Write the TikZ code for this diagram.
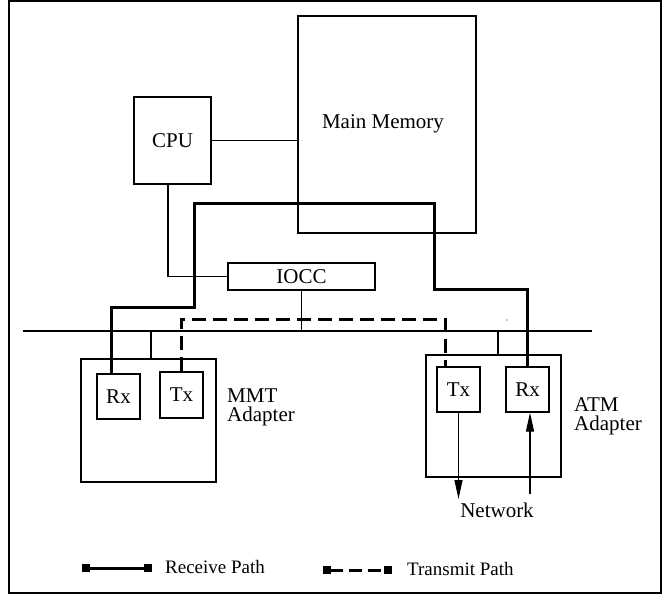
\documentclass[tikz,border=0pt]{standalone}
\usepackage{fontspec}
\setmainfont{Liberation Serif}
\usetikzlibrary{arrows.meta}
\begin{document}
\begin{tikzpicture}[x=1pt,y=-1pt,
  thin line/.style={line width=1.1pt},
  box/.style={draw,thin line,inner sep=0pt,font=\fontsize{21}{24}\selectfont},
  lbl/.style={inner sep=0pt,font=\fontsize{21}{23}\selectfont,align=left},
  recv/.style={line width=3pt},
  xmit/.style={line width=3pt,dash pattern=on 14pt off 7pt},
  netarrow/.style={thin line,-{Triangle[length=19pt,width=8pt]}},
  legtip/.style={{Square[length=8pt,width=8pt]}-{Square[length=8pt,width=8pt]}},
  legtext/.style={inner sep=0pt,anchor=west,font=\fontsize{19}{21}\selectfont}]
\useasboundingbox (0,0) rectangle (663,598);
\draw[line width=2pt] (9,1) rectangle (661,593);
% main blocks
\node[box,minimum width=178pt,minimum height=217pt] (mm) at (387,124.5) {};
\node[lbl] (mmtext) at (383,124) {Main Memory};
\node[box,minimum width=77pt,minimum height=87pt] (cpu) at (172.5,140.5) {CPU};
\node[box,minimum width=147pt,minimum height=27pt] (iocc) at (301.5,276.5) {IOCC};
% bus
\coordinate (busL) at (23,331);
\coordinate (busR) at (592,331);
\draw[thin line] (busL) -- (busR);
% adapters
\node[box,minimum width=135pt,minimum height=123pt] (mmt) at (148.5,420.5) {};
\node[box,minimum width=43pt,minimum height=45pt] (mrx) at (118.5,396.5) {Rx};
\node[box,minimum width=43pt,minimum height=46pt] (mtx) at (181.5,395) {Tx};
\node[lbl,anchor=north west] (mmtlbl) at (227,389) {MMT\\[-4pt]Adapter};
\node[box,minimum width=135pt,minimum height=122pt] (atm) at (493.5,416) {};
\node[box,minimum width=43pt,minimum height=45pt] (atx) at (458.5,389.5) {Tx};
\node[box,minimum width=43pt,minimum height=45pt] (arx) at (527.5,389.5) {Rx};
\node[lbl,anchor=north west] (atmlbl) at (574,397) {ATM\\[-4pt]Adapter};
\node[lbl] (net) at (497,510) {Network};
% thin connectors
\draw[thin line] (cpu.east) -- (cpu.east -| mm.west);
\coordinate (c1) at (168,0);
\draw[thin line] (cpu.south -| c1) |- (iocc.west);
\draw[thin line] (iocc.south) -- (iocc.south |- busL);
\coordinate (dm) at (151,331);
\draw[thin line] (dm) -- (dm |- mmt.north);
\coordinate (da) at (498,331);
\draw[thin line] (da) -- (da |- atm.north);
% receive path
\coordinate (r1) at (111,307);
\draw[recv] (r1 |- mrx.north) -- (r1) -- (194,307) -- (194,203) -- (434,203) -- (434,289) -| (arx.north);
% transmit path
\coordinate (t2) at (445,319);
\draw[xmit] (mtx.north) |- (t2) -- (t2 |- atx.north);
% network arrows
\coordinate (nt) at (458.5,499);
\draw[netarrow] (atx.south) -- (nt);
\coordinate (nr) at (530,494);
\draw[netarrow] (nr) -- (nr |- arx.south);
% stray dot
\fill (507,320) circle (0.7pt);
% legend
\coordinate (l1a) at (82,568);
\coordinate (l1b) at (152,568);
\draw[recv,legtip] (l1a) -- (l1b);
\node[legtext] (l1t) at (165,567) {Receive Path};
\coordinate (l2a) at (323,570);
\coordinate (l2b) at (392,570);
\draw[line width=3pt,dash pattern=on 13pt off 6pt,legtip] (l2a) -- (l2b);
\node[legtext] (l2t) at (407,569) {Transmit Path};
\end{tikzpicture}
\end{document}
